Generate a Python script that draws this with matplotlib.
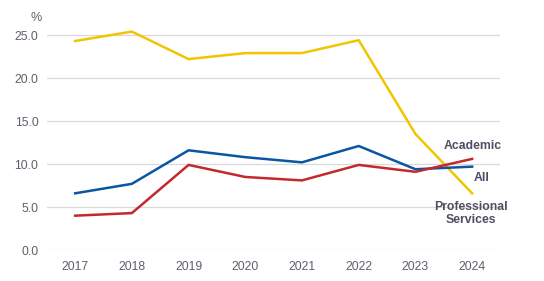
"""
Share of staff by group, 2017-2024.
"""

import matplotlib.pyplot as plt

years = [2017, 2018, 2019, 2020, 2021, 2022, 2023, 2024]
professional = [24.3, 25.4, 22.2, 22.9, 22.9, 24.4, 13.5, 6.6]
all_staff = [6.6, 7.7, 11.6, 10.8, 10.2, 12.1, 9.4, 9.7]
academic = [4.0, 4.3, 9.9, 8.5, 8.1, 9.9, 9.1, 10.6]
y_ticks = [0, 5, 10, 15, 20, 25]


def main():
    plt.rcParams['font.family'] = ['Liberation Sans', 'DejaVu Sans']

    fig = plt.figure(figsize=(5.44, 2.81), dpi=100)
    ax = fig.add_axes([0.086, 0.11, 0.834, 0.796])

    ax.plot(years, professional, color='#f2c500', lw=1.8, clip_on=False)
    ax.plot(years, all_staff, color='#0a56a3', lw=1.8, clip_on=False)
    ax.plot(years, academic, color='#c4282d', lw=1.8, clip_on=False)

    ax.set_xlim(2016.5, 2024.5)
    ax.set_ylim(0, 26)
    ax.set_yticks(y_ticks)
    ax.set_yticklabels([f'{v:.1f}' for v in y_ticks])
    ax.set_xticks(years)
    ax.grid(axis='y', color='#d9d9d9', lw=0.9)
    ax.set_axisbelow(True)
    for side in ax.spines.values():
        side.set_visible(False)
    ax.tick_params(length=0, labelsize=8.8, colors='#5f5f6e', pad=8)
    ax.tick_params(axis='y', pad=6)

    ax.text(-0.01, 1.01, '%', transform=ax.transAxes, fontsize=9,
            color='#5f5f6e', ha='right', va='bottom')

    lab = dict(fontsize=8.8, fontweight='bold', color='#4e4e64')
    ax.text(2024.52, academic[-1] + 0.8, 'Academic', ha='right', va='bottom', **lab)
    ax.text(2024.3, all_staff[-1] - 0.6, 'All', ha='right', va='top', **lab)
    ax.text(2023.98, professional[-1] - 0.9, 'Professional\nServices',
            ha='center', va='top', linespacing=1.15, **lab)

    fig.savefig('out.png', dpi=100)


if __name__ == '__main__':
    main()
